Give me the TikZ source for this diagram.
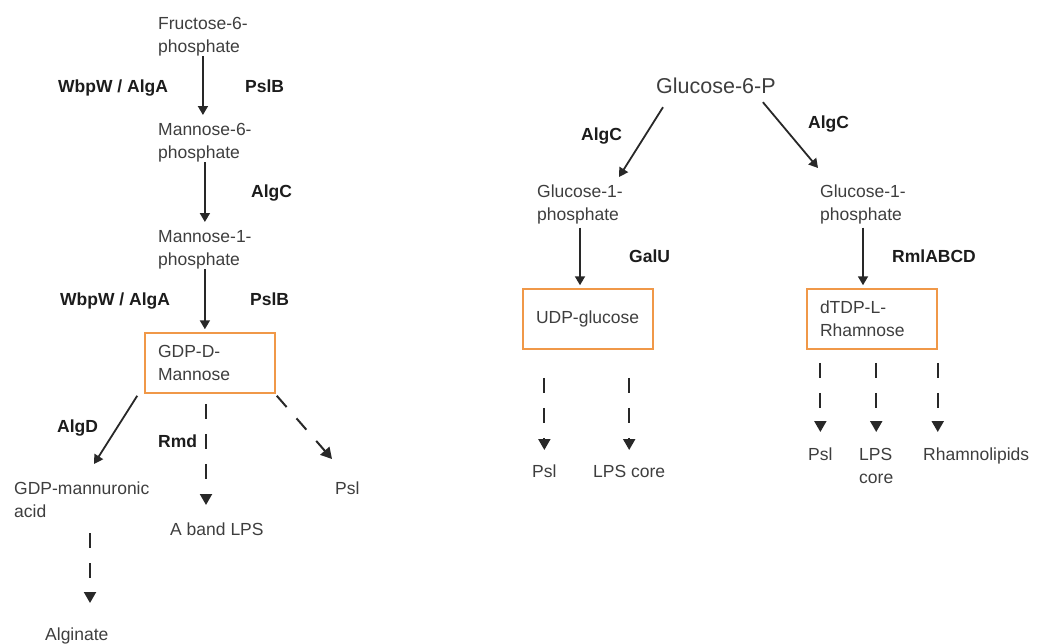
\documentclass[tikz,border=0pt]{standalone}
\usepackage{fontspec}
\setmainfont{Liberation Sans}
\usetikzlibrary{arrows.meta}
\definecolor{boxorange}{RGB}{240,152,72}
\definecolor{txtgray}{RGB}{62,62,62}
\definecolor{labblack}{RGB}{28,28,28}
\definecolor{arrgray}{RGB}{40,40,40}
\tikzset{
  txt/.style={inner sep=0pt, anchor=north west, align=left, text=txtgray,
    font=\fontsize{17.5}{23}\selectfont},
  lab/.style={inner sep=0pt, anchor=north west, text=labblack,
    font=\bfseries\fontsize{17.5}{23}\selectfont},
  pbox/.style={draw=boxorange, line width=1.5pt, inner xsep=13pt, inner ysep=0pt,
    text width=104pt, minimum height=60pt, align=left, text=txtgray,
    font=\fontsize{17.5}{23}\selectfont},
  arr/.style={draw=arrgray, line width=1.8pt, -{Triangle[width=10pt,length=9pt]}},
  darr/.style={arr, line width=2pt, dash pattern=on 15pt off 15pt, -{Triangle[width=12pt,length=11pt]}},
}
\begin{document}
\begin{tikzpicture}[x=1pt,y=-1pt]
  \useasboundingbox (0,0) rectangle (1040,643);
  \node[txt] (f6p) at (158,17) {Fructose-6-\\phosphate};
  \node[txt] (m6p) at (158,123) {Mannose-6-\\phosphate};
  \node[txt] (m1p) at (158,230) {Mannose-1-\\phosphate};
  \node[pbox] (gdpman) at (210,363) {GDP-D-\\Mannose};
  \node[txt] (gdpacid) at (14,482) {GDP-mannuronic\\acid};
  \node[txt] (aband) at (170,523) {A band LPS};
  \node[txt] (psla) at (335,482) {Psl};
  \node[txt] (alginate) at (45,628) {Alginate};
  \node[txt, font=\fontsize{21.5}{26}\selectfont] (g6p) at (656,78) {Glucose-6-P};
  \node[txt] (g1pa) at (537,185) {Glucose-1-\\phosphate};
  \node[txt] (g1pb) at (820,185) {Glucose-1-\\phosphate};
  \node[pbox, text width=110pt, inner xsep=10pt] (udp) at (588,319) {\hspace*{3pt}UDP-glucose};
  \node[pbox] (rham) at (872,319) {dTDP-L-\\Rhamnose};
  \node[txt] (psl2) at (532,465) {Psl};
  \node[txt] (lps2) at (593,465) {LPS core};
  \node[txt] (psl3) at (808,448) {Psl};
  \node[txt] (lps3) at (859,448) {LPS\\core};
  \node[txt] (rhamlip) at (923,448) {Rhamnolipids};
  \node[lab] (wbpa) at (58,80) {WbpW / AlgA};
  \node[lab] (pslba) at (245,80) {PslB};
  \node[lab] (algca) at (251,185) {AlgC};
  \node[lab] (wbpb) at (60,293) {WbpW / AlgA};
  \node[lab] (pslbb) at (250,293) {PslB};
  \node[lab] (algd) at (57,420) {AlgD};
  \node[lab] (rmd) at (158,435) {Rmd};
  \node[lab] (algcb) at (581,128) {AlgC};
  \node[lab] (algcc) at (808,116) {AlgC};
  \node[lab] (galu) at (629,250) {GalU};
  \node[lab] (rml) at (892,250) {RmlABCD};
  \draw[arr, shorten >=8pt] (f6p.south) -- (f6p.south |- m6p.north);
  \draw[arr, shorten >=8pt] (m6p.south) -- (m6p.south |- m1p.north);
  \draw[arr, shorten >=3pt] (m1p.south) -- (m1p.south |- gdpman.north);
  \draw[arr] ([xshift=-7pt,yshift=-2pt]gdpman.south west) -- ([xshift=80pt,yshift=18pt]gdpacid.north west);
  \draw[darr, shorten <=10pt, shorten >=18pt] ([xshift=-4pt]gdpman.south) -- ([xshift=-4pt]gdpman.south |- aband.north);
  \draw[darr] ([xshift=1pt,yshift=-2pt]gdpman.south east) -- ([xshift=-3pt,yshift=23pt]psla.north west);
  \draw[darr, shorten <=15pt, shorten >=25pt] ([xshift=76pt]gdpacid.south west) -- ([xshift=76pt]gdpacid.south west |- alginate.north);
  \draw[arr] ([xshift=7pt,yshift=-13pt]g6p.south west) -- ([xshift=82pt,yshift=8pt]g1pa.north west);
  \draw[arr] ([xshift=-13pt,yshift=-8pt]g6p.south east) -- ([xshift=-2pt,yshift=17pt]g1pb.north west);
  \draw[arr, shorten <=3pt, shorten >=3pt] (g1pa.south) -- (g1pa.south |- udp.north);
  \draw[arr, shorten <=3pt, shorten >=3pt] (g1pb.south) -- (g1pb.south |- rham.north);
  \draw[darr, shorten <=28pt, shorten >=15pt] (udp.south -| psl2.north) -- (psl2.north);
  \draw[darr, shorten <=28pt, shorten >=15pt] (udp.south -| lps2.north) -- (lps2.north);
  \draw[darr, shorten <=13pt, shorten >=16pt] (rham.south -| psl3.north) -- (psl3.north);
  \draw[darr, shorten <=13pt, shorten >=16pt] (rham.south -| lps3.north) -- (lps3.north);
  \draw[darr, shorten <=13pt, shorten >=16pt] (rham.south east) -- (rham.south east |- rhamlip.north);
\end{tikzpicture}
\end{document}
